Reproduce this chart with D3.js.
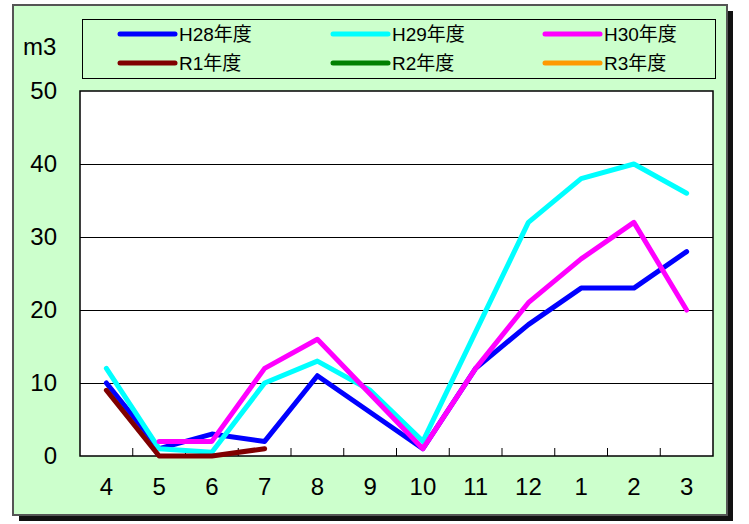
<!DOCTYPE html>
<html>
<head>
<meta charset="utf-8">
<script src="https://cdn.jsdelivr.net/npm/d3@7"></script>
<style>
  html, body { margin: 0; padding: 0; background: #ffffff; }
  svg { display: block; }
  text { font-family: "Liberation Sans", Arial, "Noto Sans CJK JP", sans-serif; fill: #000; }
</style>
</head>
<body>
<svg id="chart" width="749" height="524"></svg>
<script>
// Months of the fiscal year (April to March)
const months = ["4", "5", "6", "7", "8", "9", "10", "11", "12", "1", "2", "3"];

// Monthly volumes (m3) per fiscal year; null = no record
const h28 = [10, 1, 3, 2, 11, 6, 1, 12, 18, 23, 23, 28];
const h29 = [12, 1, 0.5, 10, 13, 9, 2, 17, 32, 38, 40, 36];
const h30 = [null, 2, 2, 12, 16, 8.5, 1, 12, 21, 27, 32, 20];
const r1  = [9, 0, 0, 1, null, null, null, null, null, null, null, null];
const r2  = [null, null, null, null, null, null, null, null, null, null, null, null];
const r3  = [null, null, null, null, null, null, null, null, null, null, null, null];

const seriesNames  = ["H28年度", "H29年度", "H30年度", "R1年度", "R2年度", "R3年度"];
const seriesColors = ["#0000FF", "#00FFFF", "#FF00FF", "#800000", "#008000", "#FF9900"];
const yTicks = [0, 10, 20, 30, 40, 50];
const unitLabel = "m3";

const seriesValues = [h28, h29, h30, r1, r2, r3];

const svg = d3.select("#chart");

// Outer panel with drop shadow
svg.append("rect").attr("x", 19).attr("y", 11).attr("width", 714).attr("height", 510).attr("fill", "#111");
svg.append("rect").attr("x", 13).attr("y", 5).attr("width", 714).attr("height", 510)
  .attr("fill", "#CCFFCC").attr("stroke", "#555").attr("stroke-width", 2);

// Plot area
const plot = { left: 80, right: 713, top: 91, bottom: 456 };

const x = d3.scaleBand().domain(months).range([plot.left, plot.right]);
const y = d3.scaleLinear().domain([0, 50]).range([plot.bottom, plot.top]);

svg.append("rect").attr("x", plot.left).attr("y", plot.top)
  .attr("width", plot.right - plot.left).attr("height", plot.bottom - plot.top)
  .attr("fill", "#fff");

// Horizontal gridlines
svg.append("g")
  .attr("transform", `translate(${plot.left},0)`)
  .call(d3.axisLeft(y).tickValues(yTicks.slice(1, -1)).tickSize(-(plot.right - plot.left)).tickFormat(""))
  .call(g => g.select(".domain").remove())
  .call(g => g.selectAll("line").attr("stroke", "#000").attr("stroke-width", 1));

// Y labels
svg.append("g")
  .attr("transform", `translate(${plot.left},0)`)
  .call(d3.axisLeft(y).tickValues(yTicks).tickSize(0).tickPadding(23))
  .call(g => g.select(".domain").remove())
  .call(g => g.selectAll("text").attr("font-size", 24).attr("fill", "#000")
    .style("font-family", '"Liberation Sans", Arial, sans-serif'));

// Category boundary ticks (pointing into the plot)
const boundaries = months.slice(1).map(m => x(m));
svg.append("g").selectAll("line").data(boundaries).join("line")
  .attr("x1", d => d).attr("x2", d => d)
  .attr("y1", plot.bottom).attr("y2", plot.bottom - 8)
  .attr("stroke", "#000").attr("stroke-width", 1);

// X labels
svg.append("g")
  .attr("transform", `translate(0,${plot.bottom})`)
  .call(d3.axisBottom(x).tickSize(0).tickPadding(22))
  .call(g => g.select(".domain").remove())
  .call(g => g.selectAll("text").attr("font-size", 24).attr("fill", "#000")
    .style("font-family", '"Liberation Sans", Arial, sans-serif'));

// Plot border
svg.append("rect").attr("x", plot.left).attr("y", plot.top)
  .attr("width", plot.right - plot.left).attr("height", plot.bottom - plot.top)
  .attr("fill", "none").attr("stroke", "#000").attr("stroke-width", 1.5);

// Series lines
const line = d3.line()
  .defined(d => d.v !== null)
  .x(d => x(d.m) + x.bandwidth() / 2)
  .y(d => y(d.v));

seriesValues.forEach((vals, i) => {
  const pts = months.map((m, j) => ({ m, v: vals[j] }));
  svg.append("path").datum(pts)
    .attr("d", line)
    .attr("fill", "none")
    .attr("stroke", seriesColors[i])
    .attr("stroke-width", 5)
    .attr("stroke-linejoin", "round")
    .attr("stroke-linecap", "round");
});

// Unit label
svg.append("text").attr("x", 23).attr("y", 55).attr("font-size", 24).text(unitLabel);

// Legend
svg.append("rect").attr("x", 82.5).attr("y", 19.5).attr("width", 633).attr("height", 59)
  .attr("fill", "none").attr("stroke", "#000").attr("stroke-width", 1);

const legendCols = [120, 333, 545];
const legendRows = [34, 63];
const legend = svg.append("g").selectAll("g").data(seriesNames).join("g")
  .attr("transform", (d, i) => `translate(${legendCols[i % 3]},${legendRows[Math.floor(i / 3)]})`);
legend.append("line")
  .attr("x1", 0).attr("x2", 55).attr("y1", 0).attr("y2", 0)
  .attr("stroke", (d, i) => seriesColors[i]).attr("stroke-width", 5).attr("stroke-linecap", "round");
legend.append("text")
  .attr("x", 59).attr("y", 0).attr("dy", "0.36em")
  .attr("font-size", 19)
  .text(d => d);
</script>
</body>
</html>
